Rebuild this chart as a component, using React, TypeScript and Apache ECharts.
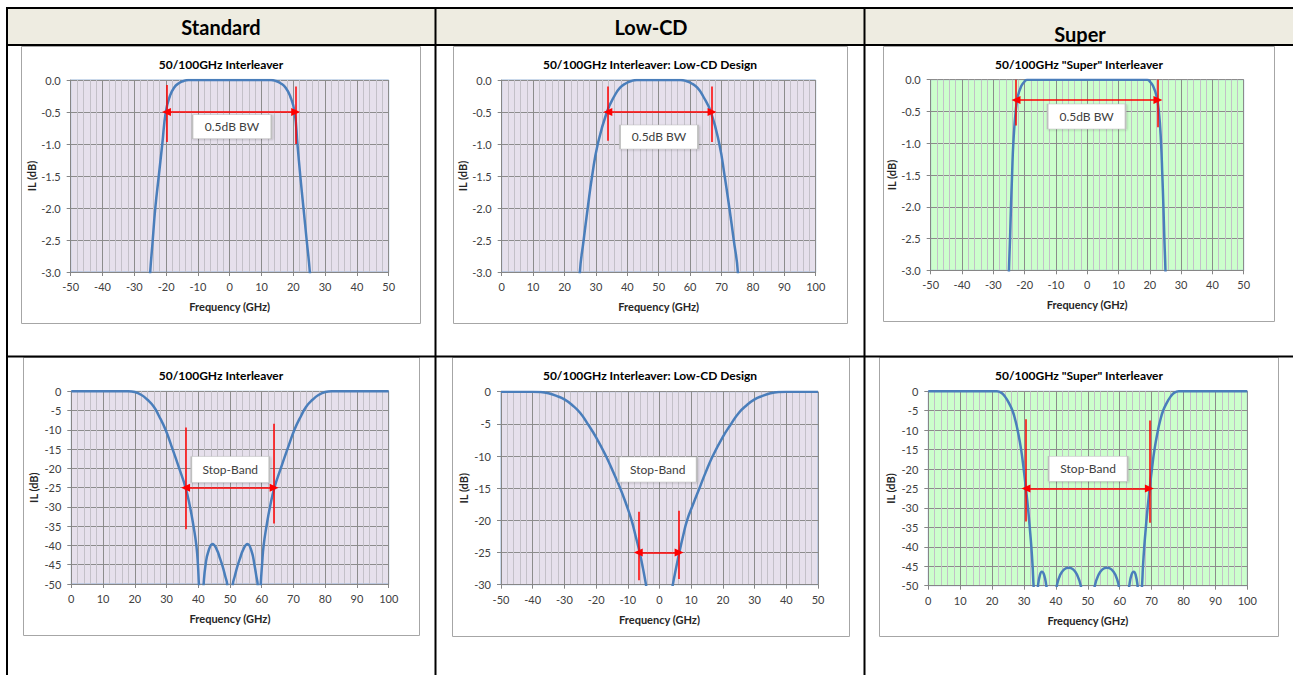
import React, { useEffect, useRef } from "react";
import * as echarts from "echarts";

const FONT = 'Lato, "Open Sans", "DejaVu Sans", sans-serif';

const HEADERS = ["Standard", "Low-CD", "Super"];
const TITLES = [
  "50/100GHz Interleaver",
  "50/100GHz Interleaver: Low-CD Design",
  '50/100GHz "Super" Interleaver',
];
const X_NAME = "Frequency (GHz)";
const Y_NAME = "IL (dB)";
const BW_TEXT = "0.5dB BW";
const SB_TEXT = "Stop-Band";

// Curves: [frequency GHz, IL dB]
const stdPass = [
  [-25.3, -3.3], [-25.0, -3.0], [-24.2, -2.5], [-23.4, -2.0], [-22.3, -1.5], [-21.2, -1.0],
  [-20.1, -0.5], [-18.8, -0.25], [-17.5, -0.12], [-16.0, -0.05], [-14.5, -0.015], [-13.0, 0],
  [-6, 0], [0, 0], [6, 0], [13.0, 0], [14.5, -0.015], [16.0, -0.05], [17.6, -0.12], [19.0, -0.25],
  [20.4, -0.5], [21.3, -1.0], [22.2, -1.5], [23.2, -2.0], [24.2, -2.5], [25.2, -3.0], [25.5, -3.3],
];
const lowCdPass = [
  [24.7, -3.3], [24.9, -3.0], [26.1, -2.5], [27.4, -2.0], [28.8, -1.5], [30.6, -1.0],
  [33.5, -0.5], [35.9, -0.25], [37.7, -0.12], [39.6, -0.05], [41.3, -0.015], [43, 0],
  [50, 0], [57, 0], [58.7, -0.015], [60.4, -0.05], [62.3, -0.12], [64.1, -0.25], [66.6, -0.5],
  [69.3, -1.0], [71.0, -1.5], [72.5, -2.0], [73.9, -2.5], [75.2, -3.0], [75.4, -3.3],
];
const superPass = [
  [-25.1, -3.3], [-25.0, -3.0], [-24.65, -2.5], [-24.35, -2.0], [-24.0, -1.5], [-23.6, -1.0],
  [-22.85, -0.5], [-22.1, -0.25], [-21.05, -0.1], [-20.2, -0.04], [-19.2, 0], [-10, 0], [0, 0],
  [10, 0], [19.2, 0], [20.2, -0.04], [21.05, -0.1], [22.1, -0.25], [22.9, -0.5], [23.6, -1.0],
  [24.0, -1.5], [24.35, -2.0], [24.65, -2.5], [25.0, -3.0], [25.1, -3.3],
];
const stdStop = [
  [0, 0], [10, 0], [18, 0], [20, -0.2], [22, -0.9], [24, -2.2], [26, -4.0], [27.5, -6.2],
  [29.7, -10], [31.9, -15], [34.0, -20], [36.0, -25], [37.4, -30], [38.5, -35], [39.4, -40],
  [39.9, -45], [40.2, -50], [41.0, -60], [41.7, -50], [42.3, -45], [43.2, -41.5], [44.5, -39.6],
  [45.8, -41], [46.9, -43.5], [47.7, -45.5], [48.5, -48], [49.1, -50], [50, -60], [50.9, -50],
  [51.5, -48], [52.3, -45.5], [53.1, -43.5], [54.2, -41], [55.5, -39.6], [56.8, -41.5],
  [57.7, -45], [58.3, -48], [58.7, -50], [59.2, -60], [59.7, -50], [60.1, -45], [60.6, -40],
  [61.5, -35], [62.6, -30], [64.0, -25], [66.0, -20], [68.1, -15], [70.3, -10], [72.5, -6.2],
  [74, -4.0], [76, -2.2], [78, -0.9], [80, -0.2], [82, 0], [90, 0], [100, 0],
];
const lowCdStop = [
  [-50, 0], [-40, 0], [-37.5, -0.05], [-35, -0.25], [-32.5, -0.65], [-30, -1.2], [-27.5, -2.1],
  [-25, -3.3], [-22.65, -5], [-20, -7.1], [-16.9, -10], [-14.6, -12.5], [-12.4, -15],
  [-10.5, -17.5], [-8.8, -20], [-7.5, -22.5], [-6.25, -25], [-5.2, -27.5], [-4.26, -30],
  [-3.2, -33], [0, -45], [3.2, -33], [4.2, -30], [5.2, -27.5], [6.25, -25], [7.4, -22.5],
  [8.7, -20], [10.6, -17.5], [12.6, -15], [14.6, -12.5], [16.8, -10], [19.9, -7.1], [22.6, -5],
  [25, -3.3], [27.5, -2.1], [30, -1.2], [32.5, -0.65], [35, -0.25], [37.5, -0.05], [40, 0], [50, 0],
];
const superStop = [
  [0, 0], [10, 0], [21.5, 0], [22.3, -0.15], [23.1, -0.5], [24.0, -1.3], [25.2, -2.9], [26.4, -5],
  [27.3, -7.5], [28.0, -10], [29.1, -15], [29.9, -20], [30.6, -25], [31.25, -30], [31.8, -35],
  [32.3, -40], [32.7, -45], [33.0, -50], [33.7, -58], [34.4, -50], [35.0, -47.2], [35.6, -46.4],
  [36.3, -47.2], [37.0, -50], [38.6, -58], [40.3, -50], [41.3, -47.3], [42.6, -45.8], [44.0, -45.4],
  [45.4, -45.8], [46.7, -47.3], [47.8, -50], [50, -60], [52.2, -50], [53.3, -47.3], [54.6, -45.8],
  [56.0, -45.4], [57.4, -45.8], [58.7, -47.3], [59.7, -50], [61.4, -58], [63.0, -50], [63.7, -47.2],
  [64.4, -46.4], [65.0, -47.2], [65.6, -50], [66.3, -58], [67.0, -50], [67.3, -45], [67.7, -40],
  [68.2, -35], [68.75, -30], [69.4, -25], [70.1, -20], [70.9, -15], [72.0, -10], [72.7, -7.5],
  [73.6, -5], [74.8, -2.9], [76.0, -1.3], [76.9, -0.5], [77.7, -0.15], [78.5, 0], [90, 0], [100, 0],
];

// Annotations (data coordinates): red markers [x, yTop, yBottom], arrow y, label position
const stdPassMarks = [[-19.9, -0.08, -0.97], [20.75, -0.1, -1.0]];
const lowCdPassMarks = [[33.8, -0.1, -0.95], [67.0, -0.1, -0.97]];
const superPassMarks = [[-22.75, 0, -0.72], [22.6, 0, -0.75]];
const stdStopMarks = [[36.0, -9.4, -35.8], [63.9, -8.4, -34.3]];
const lowCdStopMarks = [[-6.7, -18.65, -29.3], [6.2, -18.5, -29.1]];
const superStopMarks = [[30.6, -7.2, -33.5], [69.3, -7.5, -33.8]];
const arrowLevels = [-0.5, -0.5, -0.32, -25, -25, -25];
const labelPositions = [[0.7, -0.73], [50.1, -0.89], [-0.2, -0.58], [50.1, -20.3], [-0.57, -12.1], [50.1, -19.9]];

const X_RANGES = [[-50, 50], [0, 100], [-50, 50], [0, 100], [-50, 50], [0, 100]];
const Y_MINS = [-3, -3, -3, -50, -30, -50];
const Y_STEPS = [0.5, 0.5, 0.5, 5, 5, 5];

const LAVENDER = "#E6E0EC";
const GREEN = "#CCFFCC";

const PANELS = [
  { data: stdPass, marks: stdPassMarks, title: TITLES[0], text: BW_TEXT, bg: LAVENDER, dec: 1 },
  { data: lowCdPass, marks: lowCdPassMarks, title: TITLES[1], text: BW_TEXT, bg: LAVENDER, dec: 1 },
  { data: superPass, marks: superPassMarks, title: TITLES[2], text: BW_TEXT, bg: GREEN, dec: 1 },
  { data: stdStop, marks: stdStopMarks, title: TITLES[0], text: SB_TEXT, bg: LAVENDER, dec: 0 },
  { data: lowCdStop, marks: lowCdStopMarks, title: TITLES[1], text: SB_TEXT, bg: LAVENDER, dec: 0 },
  { data: superStop, marks: superStopMarks, title: TITLES[2], text: SB_TEXT, bg: GREEN, dec: 0 },
];

// Layout (pixels)
const GRIDS = [
  { left: 70.7, top: 80, width: 318, height: 192 },
  { left: 501.7, top: 80, width: 314, height: 192 },
  { left: 930.7, top: 79.7, width: 313, height: 190.6 },
  { left: 71.3, top: 391.3, width: 317.4, height: 192.7 },
  { left: 501, top: 391.7, width: 317, height: 193 },
  { left: 928.3, top: 391.3, width: 319, height: 194.4 },
];
const BOXES = [
  [21.5, 46.5, 399, 277],
  [453.5, 46.5, 394, 277],
  [883.5, 46.5, 391, 275],
  [23.5, 357.5, 396, 278],
  [452.5, 357.5, 397, 279],
  [879.5, 357.5, 399, 279],
];
const TITLE_POS = [[221, 64], [650, 64], [1079, 64], [221, 375], [650, 375], [1079, 375]];
const HEADER_POS = [[221, 27], [651, 27], [1080, 34]];
const LABEL_SIZES = [[79, 24], [78, 24], [78, 25], [78, 26], [78, 25], [79, 25]];

function buildOption() {
  const gray = "#868686";
  const grid = GRIDS.map((g, i) => ({
    ...g,
    containLabel: false,
    show: true,
    backgroundColor: PANELS[i].bg,
    borderColor: "#95B3D7",
    borderWidth: 1,
  }));
  const xAxis = PANELS.map((p, i) => ({
    gridIndex: i,
    type: "value",
    min: X_RANGES[i][0],
    max: X_RANGES[i][1],
    interval: 10,
    axisLine: { show: true, onZero: false, lineStyle: { color: gray, width: 1 } },
    axisTick: { show: true, length: 4, inside: false, lineStyle: { color: gray } },
    axisLabel: { margin: 9, color: "#404040", fontSize: 11, fontFamily: FONT, showMinLabel: true, showMaxLabel: true },
    splitLine: { show: true, lineStyle: { color: "#8C8C8C", width: 1 } },
    minorTick: { show: true, splitNumber: 5, length: 0, lineStyle: { opacity: 0 } },
    minorSplitLine: { show: true, lineStyle: { color: "#C3C0C8", width: 1 } },
    name: X_NAME,
    nameLocation: "middle",
    nameGap: 29,
    nameTextStyle: { fontWeight: "bold", fontSize: 11, color: "#262626", fontFamily: FONT },
  }));
  const yAxis = PANELS.map((p, i) => ({
    gridIndex: i,
    type: "value",
    min: Y_MINS[i],
    max: 0,
    interval: Y_STEPS[i],
    axisLine: { show: true, onZero: false, lineStyle: { color: gray, width: 1 } },
    axisTick: { show: true, length: 4, inside: false, lineStyle: { color: gray } },
    axisLabel: {
      margin: 10,
      color: "#404040",
      fontSize: 11,
      fontFamily: FONT,
      formatter: (v: number) => v.toFixed(p.dec),
    },
    splitLine: { show: true, lineStyle: { color: "#8C8C8C", width: 1 } },
    name: Y_NAME,
    nameLocation: "middle",
    nameGap: 32,
    nameTextStyle: { fontWeight: "bold", fontSize: 11, color: "#262626", fontFamily: FONT },
  }));
  const series = PANELS.map((p, i) => {
    const [l, r] = p.marks;
    const ay = arrowLevels[i];
    return {
      type: "line",
      xAxisIndex: i,
      yAxisIndex: i,
      data: p.data,
      showSymbol: false,
      symbol: "none",
      smooth: 0.5,
      clip: true,
      lineStyle: { color: "#4A7EBB", width: 2.5 },
      z: 2,
      markLine: {
        silent: true,
        animation: false,
        symbol: ["none", "none"],
        symbolSize: [9, 10],
        label: { show: false },
        lineStyle: { color: "#FF0000", width: 1.5, type: "solid" },
        emphasis: { disabled: true },
        data: [
          [{ coord: [l[0], l[1]] }, { coord: [l[0], l[2]] }],
          [{ coord: [r[0], r[1]] }, { coord: [r[0], r[2]] }],
          [
            { coord: [l[0], ay], symbol: "triangle", symbolSize: [8, 9] },
            { coord: [r[0], ay], symbol: "triangle", symbolSize: [8, 9] },
          ],
        ],
      },
      markPoint: {
        silent: true,
        animation: false,
        data: [
          {
            coord: labelPositions[i],
            symbol: "rect",
            symbolSize: LABEL_SIZES[i],
            itemStyle: {
              color: "#FFFFFF",
              borderColor: "#BFBFBF",
              borderWidth: 1,
              shadowColor: "rgba(0,0,0,0.18)",
              shadowBlur: 2,
              shadowOffsetX: 1,
              shadowOffsetY: 1,
            },
            label: {
              show: true,
              position: "inside",
              formatter: p.text,
              color: "#404040",
              fontSize: 12,
              fontFamily: FONT,
            },
          },
        ],
      },
    };
  });

  const graphic: any[] = [];
  graphic.push({ type: "rect", z: -10, shape: { x: 6, y: 7, width: 1287, height: 38 }, style: { fill: "#EEECE1" } });
  const blk = { fill: "#000000" };
  graphic.push({ type: "rect", z: 10, shape: { x: 6, y: 7, width: 1287, height: 2 }, style: blk });
  graphic.push({ type: "rect", z: 10, shape: { x: 6, y: 44, width: 1287, height: 2 }, style: blk });
  graphic.push({ type: "rect", z: 10, shape: { x: 6, y: 355.5, width: 1287, height: 2 }, style: blk });
  graphic.push({ type: "rect", z: 10, shape: { x: 6, y: 7, width: 2, height: 668 }, style: blk });
  graphic.push({ type: "rect", z: 10, shape: { x: 434.5, y: 7, width: 2, height: 668 }, style: blk });
  graphic.push({ type: "rect", z: 10, shape: { x: 863.5, y: 7, width: 2, height: 668 }, style: blk });
  HEADERS.forEach((h, i) => {
    graphic.push({
      type: "text",
      z: 10,
      x: HEADER_POS[i][0],
      y: HEADER_POS[i][1],
      style: { text: h, fontSize: 20, fontWeight: "bold", fontFamily: FONT, fill: "#000000", align: "center", verticalAlign: "middle" },
    });
  });
  BOXES.forEach((b) => {
    graphic.push({
      type: "rect",
      z: -5,
      shape: { x: b[0], y: b[1], width: b[2], height: b[3] },
      style: { fill: "#FFFFFF", stroke: "#A6A6A6", lineWidth: 1 },
    });
  });
  PANELS.forEach((p, i) => {
    graphic.push({
      type: "text",
      z: 10,
      x: TITLE_POS[i][0],
      y: TITLE_POS[i][1],
      style: { text: p.title, fontSize: 12, fontWeight: "bold", fontFamily: FONT, fill: "#000000", align: "center", verticalAlign: "middle" },
    });
  });

  return {
    animation: false,
    backgroundColor: "#FFFFFF",
    grid,
    xAxis,
    yAxis,
    series,
    graphic,
  };
}

export default function App() {
  const ref = useRef<HTMLDivElement>(null);
  useEffect(() => {
    document.body.style.margin = "0";
    const chart = echarts.init(ref.current!, null, { renderer: "svg" });
    chart.setOption(buildOption() as any);
    return () => chart.dispose();
  }, []);
  return <div ref={ref} style={{ position: "absolute", left: 0, top: 0, width: 1293, height: 675 }} />;
}
